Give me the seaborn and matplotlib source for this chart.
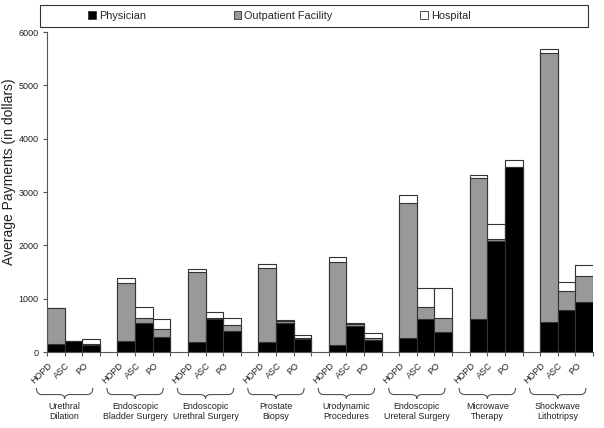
import numpy as np
import pandas as pd
import matplotlib
matplotlib.use("Agg")
import matplotlib.pyplot as plt
import seaborn as sns
from matplotlib.path import Path
from matplotlib.patches import PathPatch, Rectangle, Patch

procedures = ["Urethral\nDilation", "Endoscopic\nBladder Surgery", "Endoscopic\nUrethral Surgery",
              "Prostate\nBiopsy", "Urodynamic\nProcedures", "Endoscopic\nUreteral Surgery",
              "Microwave\nTherapy", "Shockwave\nLithotripsy"]
settings = ["HOPD", "ASC", "PO"]

# payments per bar, in order procedure x setting
physician = [150, 200, 130, 210, 540, 290, 195, 620, 400, 195, 550, 250,
             125, 490, 220, 270, 615, 370, 620, 2090, 3465, 570, 790, 945]
outpatient = [680, 0, 20, 1080, 90, 150, 1300, 20, 100, 1385, 40, 15,
              1555, 40, 50, 2530, 235, 260, 2640, 20, 10, 5030, 355, 485]
hospital = [0, 0, 95, 105, 215, 175, 55, 115, 130, 65, 10, 55,
            95, 15, 80, 150, 355, 575, 55, 290, 125, 90, 165, 200]

sns.set_style("ticks")
plt.rcParams['font.family'] = ['Liberation Sans', 'DejaVu Sans']

rows = []
order = []
for g in range(len(procedures)):
    for s, st in enumerate(settings):
        i = g * 3 + s
        key = f"{g}-{st}"
        order.append(key)
        rows.append(dict(slot=key,
                         phys=physician[i],
                         out=physician[i] + outpatient[i],
                         total=physician[i] + outpatient[i] + hospital[i]))
    if g < len(procedures) - 1:
        order.append(f"gap{g}")
df = pd.DataFrame(rows)

fig = plt.figure(figsize=(6.04, 4.28), dpi=100)
ax = fig.add_axes([47 / 604, 76 / 428, 546 / 604, 320 / 428])

edge = '#333333'
gray = '#999999'
for col, color in [('total', 'white'), ('out', gray), ('phys', 'black')]:
    sns.barplot(data=df, x='slot', y=col, order=order, color=color, width=1,
                edgecolor=edge, linewidth=0.8, saturation=1, errorbar=None, ax=ax)

ax.set_xlim(-0.5, len(order) - 0.5)
ax.set_ylim(0, 6000)
ax.set_yticks(range(0, 6001, 1000))
ax.tick_params(axis='y', labelsize=6.5, length=3, width=0.8, color='#555555', pad=3,
               labelcolor='#222222')
ax.set_xticks(np.arange(len(order) + 1) - 0.5)
ax.set_xticklabels([])
ax.tick_params(axis='x', length=3, width=0.8, color='#555555')
ax.set_xlabel('')
ax.set_ylabel('Average Payments (in dollars)', fontsize=10, color='#222222')
ax.yaxis.set_label_coords(-0.057, 0.5625)
sns.despine(ax=ax)
for sp in ['left', 'bottom']:
    ax.spines[sp].set_color('#555555')
    ax.spines[sp].set_linewidth(0.8)

trans = ax.get_xaxis_transform()
for g, name in enumerate(procedures):
    first = g * 4
    for s, st in enumerate(settings):
        ax.annotate(st, xy=(first + s, 0), xycoords=trans, xytext=(-3.5, -8.5),
                    textcoords='offset points', rotation=45, ha='right', va='center',
                    rotation_mode='anchor', fontsize=6.5, color='#222222')
    x0, x1, xm = first - 1.1, first + 2.1, first + 0.5
    yt, ym, yp = -0.112, -0.133, -0.146
    verts = [(x0, yt), (x0, ym), (x0 + 0.3, ym), (xm - 0.3, ym), (xm, ym), (xm, yp),
             (xm, ym), (xm + 0.3, ym), (x1 - 0.3, ym), (x1, ym), (x1, yt)]
    codes = [Path.MOVETO, Path.CURVE3, Path.CURVE3, Path.LINETO, Path.CURVE3, Path.CURVE3,
             Path.CURVE3, Path.CURVE3, Path.LINETO, Path.CURVE3, Path.CURVE3]
    ax.add_patch(PathPatch(Path(verts, codes), transform=trans, fill=False,
                           edgecolor='#555555', lw=0.8, clip_on=False))
    ax.text(xm, -0.157, name, transform=trans, ha='center', va='top',
            fontsize=6.4, linespacing=1.15, color='#222222')

# legend box across the top
fig.patches.append(Rectangle((40 / 604, 1 - 27 / 428), 548 / 604, 22 / 428,
                             transform=fig.transFigure, facecolor='white',
                             edgecolor=edge, lw=0.8))
handles = [Patch(facecolor='black', edgecolor=edge, lw=0.6),
           Patch(facecolor=gray, edgecolor=edge, lw=0.6),
           Patch(facecolor='white', edgecolor=edge, lw=0.6)]
fig.legend(handles, ['Physician', 'Outpatient Facility', 'Hospital'], ncol=3,
           frameon=False, loc='center left', bbox_to_anchor=(88 / 604, 1 - 16 / 428),
           fontsize=7.8, handlelength=0.7, handleheight=0.7, handletextpad=0.3,
           columnspacing=8.1, borderpad=0, borderaxespad=0)

fig.savefig('out.png', dpi=100)
